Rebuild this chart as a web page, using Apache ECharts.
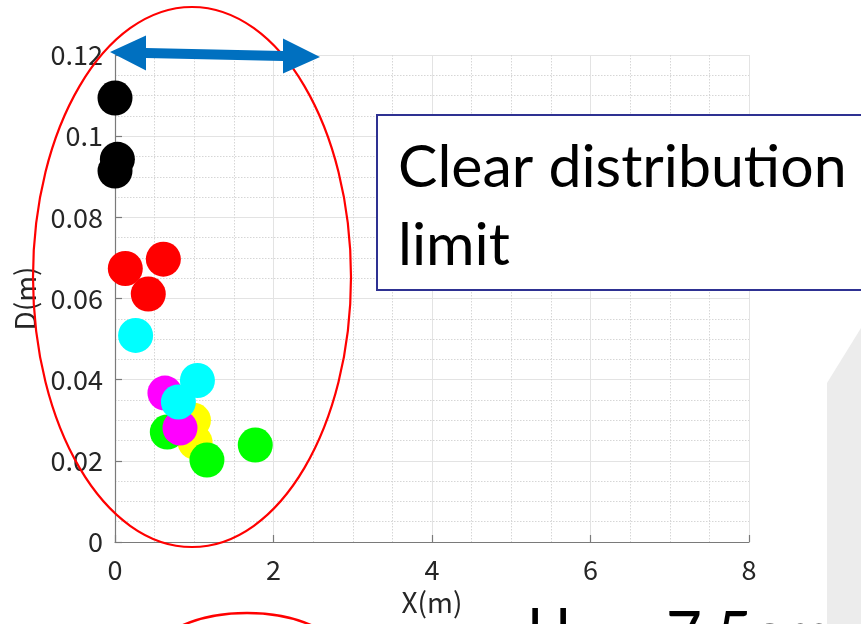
<!DOCTYPE html>
<html>
<head>
<meta charset="utf-8">
<script src="https://cdn.jsdelivr.net/npm/echarts@6/dist/echarts.min.js"></script>
<style>
html,body{margin:0;padding:0;background:#fff;}
#chart{width:861px;height:624px;}
</style>
</head>
<body>
<div id="chart"></div>
<script>
// ---- data (X in m, D in m) ----
var blackPts   = [[0.00, 0.1094], [0.03, 0.0943], [0.00, 0.0914]];
var redPts     = [[0.13, 0.0674], [0.61, 0.0697], [0.42, 0.0611]];
var yellowPts  = [[0.99, 0.0300], [1.01, 0.0246]];
var greenPts   = [[0.66, 0.0271], [1.16, 0.0202], [1.77, 0.0239]];
var magentaPts = [[0.63, 0.0367], [0.82, 0.0281]];
var cyanPts    = [[0.26, 0.0509], [1.04, 0.0398], [0.80, 0.0345]];

var xTicks = [0, 2, 4, 6, 8];
var yTicks = [0, 0.02, 0.04, 0.06, 0.08, 0.1, 0.12];
var xName = 'X(m)';
var yName = 'D(m)';
var boxText = ['Clear distribution', 'limit'];
var bottomText = ['H', '7.5cm'];

var tickFont = 'Noto Sans CJK JP';
var chart = echarts.init(document.getElementById('chart'), null, {renderer: 'canvas'});

function mk(name, data, color) {
  return {
    name: name, type: 'scatter', data: data,
    symbol: 'circle', symbolSize: 35,
    itemStyle: {color: color, opacity: 1},
    emphasis: {disabled: true},
    silent: true
  };
}

var axisCommon = {
  axisLine: {show: true, lineStyle: {color: '#7a7a7a', width: 1.2}},
  axisTick: {show: true, inside: true, length: 7, lineStyle: {color: '#7a7a7a', width: 1.2}},
  splitLine: {show: true, lineStyle: {color: '#e3e3e3', width: 1}},
  minorTick: {show: false, splitNumber: 4},
  minorSplitLine: {show: true, lineStyle: {color: '#d6d6d6', width: 1, type: [1.5, 1.5]}}
};

var option = {
  backgroundColor: '#ffffff',
  animation: false,
  grid: {left: 115, right: 112, top: 55, bottom: 82, containLabel: false},
  xAxis: Object.assign({
    type: 'value', min: xTicks[0], max: xTicks[xTicks.length - 1], interval: 2,
    name: xName, nameLocation: 'middle', nameGap: 45,
    nameTextStyle: {fontFamily: tickFont, fontSize: 28, color: '#262626'},
    axisLabel: {fontFamily: tickFont, fontSize: 27, color: '#262626', margin: 14}
  }, axisCommon),
  yAxis: Object.assign({
    type: 'value', min: yTicks[0], max: yTicks[yTicks.length - 1], interval: 0.02,
    name: yName, nameLocation: 'middle', nameGap: 73, nameRotate: 90,
    nameTextStyle: {fontFamily: tickFont, fontSize: 28, color: '#262626'},
    axisLabel: {fontFamily: tickFont, fontSize: 27, color: '#262626', margin: 12,
      formatter: function (v) { return String(Math.round(v * 1000) / 1000); }}
  }, axisCommon),
  series: [
    mk('black', blackPts, '#000000'),
    mk('red', redPts, '#ff0000'),
    mk('yellow', yellowPts, '#ffff00'),
    mk('green', greenPts, '#00ff00'),
    mk('magenta', magentaPts, '#ff00ff'),
    mk('cyan', cyanPts, '#00ffff')
  ],
  graphic: [
    {type: 'polygon', z: 90, silent: true,
     shape: {points: [[827, 624], [827, 383], [861, 328], [861, 624]]},
     style: {fill: '#ececec'}},
    {type: 'rect', z: 100, silent: true,
     shape: {x: 377, y: 115, width: 600, height: 175},
     style: {fill: '#ffffff', stroke: '#2e3192', lineWidth: 2}},
    {type: 'text', z: 101, silent: true, left: 398, top: 138,
     style: {text: boxText[0], font: '59px Lato', fill: '#000000'}},
    {type: 'text', z: 101, silent: true, left: 398, top: 216,
     style: {text: boxText[1], font: '59px Lato', fill: '#000000'}},
    {type: 'text', z: 101, silent: true, left: 527, top: 602,
     style: {text: bottomText[0], font: '58px Lato', fill: '#000000'}},
    {type: 'text', z: 101, silent: true, left: 666, top: 605,
     style: {text: bottomText[1], font: '62px Lato', fill: '#000000'}},
    {type: 'ellipse', z: 110, silent: true,
     shape: {cx: 192, cy: 277, rx: 159, ry: 270},
     style: {fill: 'none', stroke: '#ff0000', lineWidth: 2.2}},
    {type: 'ellipse', z: 110, silent: true,
     shape: {cx: 247, cy: 673, rx: 106, ry: 60},
     style: {fill: 'none', stroke: '#ff0000', lineWidth: 2.5}},
    {type: 'polygon', z: 120, silent: true,
     shape: {points: [[110, 52], [146, 35.4], [146, 47.9], [283, 51.1], [283, 38.6], [320, 57],
                      [283, 73.6], [283, 61.1], [146, 57.9], [146, 70.4]]},
     style: {fill: '#0070c0'}}
  ]
};
chart.setOption(option);
</script>
</body>
</html>
